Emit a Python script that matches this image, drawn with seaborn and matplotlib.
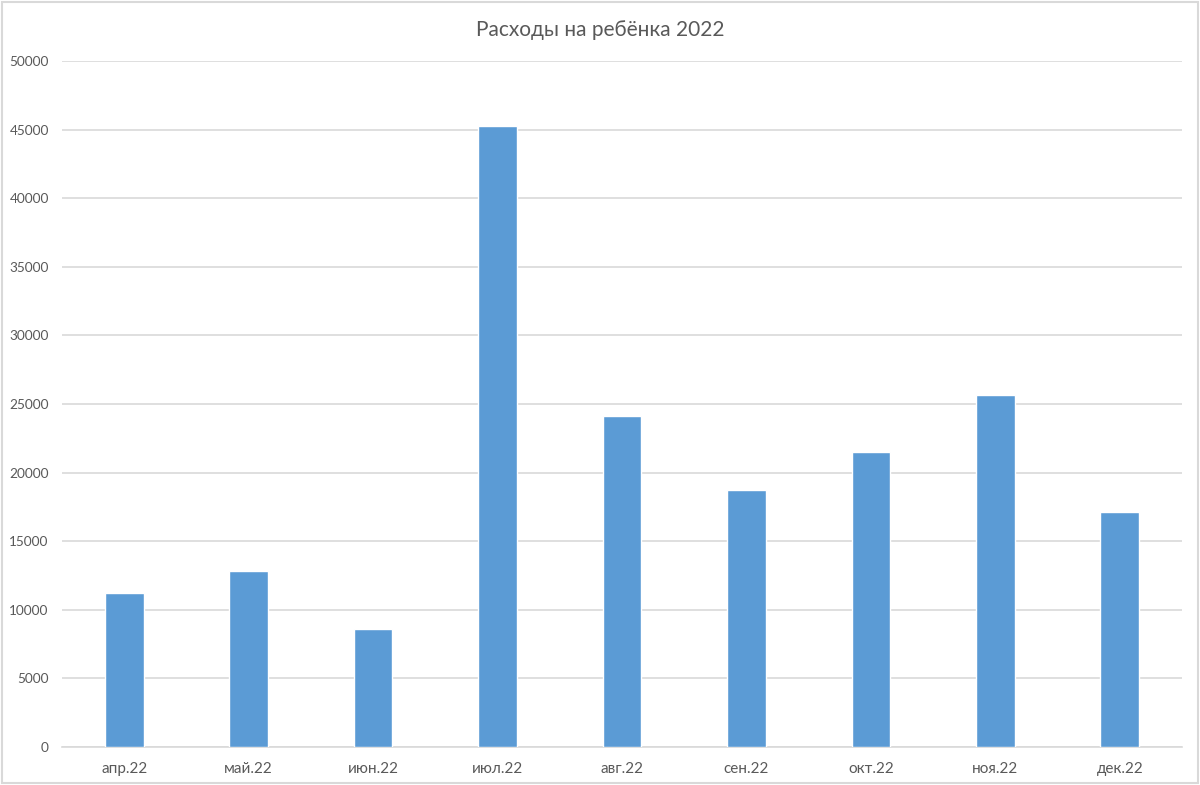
import numpy as np
import pandas as pd
import seaborn as sns
import matplotlib.pyplot as plt
from matplotlib.patches import Rectangle

months = ["апр.22", "май.22", "июн.22", "июл.22", "авг.22",
          "сен.22", "окт.22", "ноя.22", "дек.22"]
expenses = [11200, 12800, 8600, 45250, 24100, 18700, 21500, 25650, 17100]
y_ticks = [0, 5000, 10000, 15000, 20000, 25000, 30000, 35000, 40000, 45000, 50000]

df = pd.DataFrame({"month": months, "expenses": expenses})

sns.set_theme(style="white")
plt.rcParams['font.family'] = ['Lato', 'DejaVu Sans']

text_color = "#595959"
grid_color = "#D9D9D9"

fig = plt.figure(figsize=(12, 7.85), dpi=100)
ax = fig.add_axes([62 / 1200, 1 - 747 / 785, 1120 / 1200, 686 / 785])

sns.barplot(data=df, x="month", y="expenses", color="#5B9BD5",
            width=0.31, saturation=1, ax=ax, zorder=3)

ax.set_ylim(0, 50000)
ax.set_xlim(-0.5, len(months) - 0.5)
ax.set_yticks(y_ticks)
ax.set_yticklabels([str(v) for v in y_ticks])
ax.yaxis.grid(True, color=grid_color, linewidth=1.2, zorder=0)
ax.set_axisbelow(True)

# category boundary ticks like excel
ax.set_xticks(np.arange(-0.5, len(months)), minor=True)
ax.tick_params(axis="x", which="minor", length=5, color=grid_color, width=1.2, direction="out")
ax.tick_params(axis="x", which="major", length=0, pad=11, labelsize=11, labelcolor=text_color)
ax.tick_params(axis="y", length=0, pad=9.5, labelsize=9.8, labelcolor=text_color)

for side in ["top", "right", "left"]:
    ax.spines[side].set_visible(False)
ax.spines["bottom"].set_color(grid_color)
ax.spines["bottom"].set_linewidth(1.2)

ax.set_xlabel("")
ax.set_ylabel("")
fig.text(0.5, 1 - 30 / 785, "Расходы на ребёнка 2022", ha="center", va="center",
         fontsize=15, color=text_color)

# outer chart border
fig.patches.append(Rectangle((0.002, 0.003), 0.996, 0.994, transform=fig.transFigure,
                             fill=False, edgecolor="#D9D9D9", linewidth=1.5))

fig.savefig("out.png", dpi=100)
